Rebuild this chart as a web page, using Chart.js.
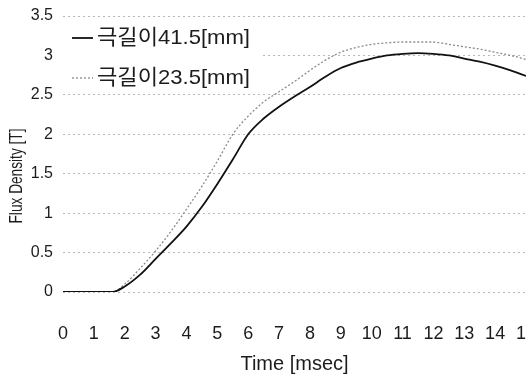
<!DOCTYPE html>
<html>
<head>
<meta charset="utf-8">
<script src="https://cdn.jsdelivr.net/npm/chart.js@4/dist/chart.umd.min.js"></script>
<style>
  html, body { margin: 0; background: #fff; overflow: hidden; }
</style>
</head>
<body>
<canvas id="chart" width="526" height="376"></canvas>
<script>
// values
const timeMs = [0, 1, 1.6, 2, 2.5, 3, 3.5, 4, 4.5, 5, 5.5, 6, 6.5, 7, 7.5, 8, 8.5, 9, 9.5, 10, 10.5, 11, 11.5, 12, 12.5, 13, 13.5, 14, 14.5, 15];
const flux41 = [0, 0, 0, 0.07, 0.22, 0.42, 0.62, 0.83, 1.08, 1.37, 1.68, 2.0, 2.2, 2.35, 2.48, 2.6, 2.73, 2.84, 2.91, 2.96, 3.0, 3.02, 3.03, 3.02, 3.0, 2.96, 2.92, 2.87, 2.81, 2.74];
const flux23 = [0, 0, 0, 0.1, 0.3, 0.52, 0.77, 1.05, 1.34, 1.66, 2.0, 2.23, 2.41, 2.54, 2.67, 2.81, 2.94, 3.04, 3.1, 3.14, 3.16, 3.17, 3.17, 3.17, 3.14, 3.11, 3.08, 3.04, 3.0, 2.95];
const seriesLabels = ["극길이41.5[mm]", "극길이23.5[mm]"];
const xTitle = "Time [msec]";
const yTitle = "Flux Density [T]";

const FONT = '"Liberation Sans", "Noto Sans CJK KR", sans-serif';
const INK = "#1c1c1c";

const toPoints = ys => timeMs.map((t, i) => ({ x: t, y: ys[i] }));

// draws text squeezed horizontally, the scan uses a condensed face
function narrowText(ctx, text, x, y, squeeze) {
    ctx.save();
    ctx.translate(x, y);
    ctx.scale(squeeze, 1);
    ctx.fillText(text, 0, 0);
    ctx.restore();
}

// legend box + y title drawn on top of the grid
const overlay = {
    id: "overlay",
    beforeDatasetsDraw(chart) {
        const { ctx, chartArea } = chart;
        ctx.save();
        ctx.fillStyle = "#fff";
        ctx.fillRect(chartArea.left, 21, 200, 73);
        ctx.restore();
    },
    afterDraw(chart) {
        const { ctx } = chart;
        ctx.save();
        chart.data.datasets.forEach((ds, i) => {
            const y = 38 + i * 40;
            ctx.strokeStyle = ds.borderColor;
            ctx.lineWidth = ds.borderWidth;
            ctx.setLineDash(ds.borderDash || []);
            ctx.beginPath();
            ctx.moveTo(72, y);
            ctx.lineTo(93, y);
            ctx.stroke();
            ctx.setLineDash([]);

            ctx.font = "21px " + FONT;
            ctx.fillStyle = INK;
            ctx.textBaseline = "middle";
            const w = ctx.measureText(ds.label).width;
            narrowText(ctx, ds.label, 97, y, 153 / w);
        });

        ctx.translate(17, 176);
        ctx.rotate(-Math.PI / 2);
        ctx.font = "19px " + FONT;
        ctx.fillStyle = INK;
        ctx.textAlign = "center";
        ctx.textBaseline = "middle";
        narrowText(ctx, yTitle, 0, 0, 0.72);
        ctx.restore();
    }
};

new Chart(document.getElementById("chart"), {
    type: "line",
    data: {
        datasets: [
            {
                label: seriesLabels[0],
                data: toPoints(flux41),
                borderColor: "#111",
                borderWidth: 1.8,
                pointRadius: 0,
                cubicInterpolationMode: "monotone",
                fill: false,
            },
            {
                label: seriesLabels[1],
                data: toPoints(flux23),
                borderColor: "#8a8a8a",
                borderWidth: 1.3,
                borderDash: [2, 2],
                pointRadius: 0,
                cubicInterpolationMode: "monotone",
                fill: false,
            },
        ],
    },
    options: {
        responsive: false,
        animation: false,
        layout: {
            autoPadding: false,
            padding: { top: 16, right: 0, bottom: 0, left: 0 },
        },
        plugins: {
            legend: { display: false },
            tooltip: { enabled: false },
        },
        scales: {
            x: {
                type: "linear",
                min: 0,
                max: 15,
                ticks: {
                    stepSize: 1,
                    padding: 23,
                    color: INK,
                    font: { family: FONT, size: 18 },
                },
                grid: { display: false },
                border: { display: false },
                title: {
                    display: true,
                    text: xTitle,
                    color: INK,
                    font: { family: FONT, size: 20 },
                    padding: { top: 0, bottom: 0 },
                },
                afterFit: scale => {
                    scale.height = 84;
                    scale.paddingLeft = 0;
                    scale.paddingRight = 0;
                },
            },
            y: {
                min: 0,
                max: 3.5,
                ticks: {
                    stepSize: 0.5,
                    padding: 10,
                    color: INK,
                    font: { family: FONT, size: 16 },
                    callback: v => String(v),
                },
                grid: { color: "#b8b8b8", lineWidth: 1, drawTicks: false },
                border: { display: false, dash: [2, 3] },
                afterFit: scale => {
                    scale.width = 63;
                    scale.paddingTop = 0;
                    scale.paddingBottom = 0;
                },
            },
        },
    },
    plugins: [overlay],
});
</script>
</body>
</html>
